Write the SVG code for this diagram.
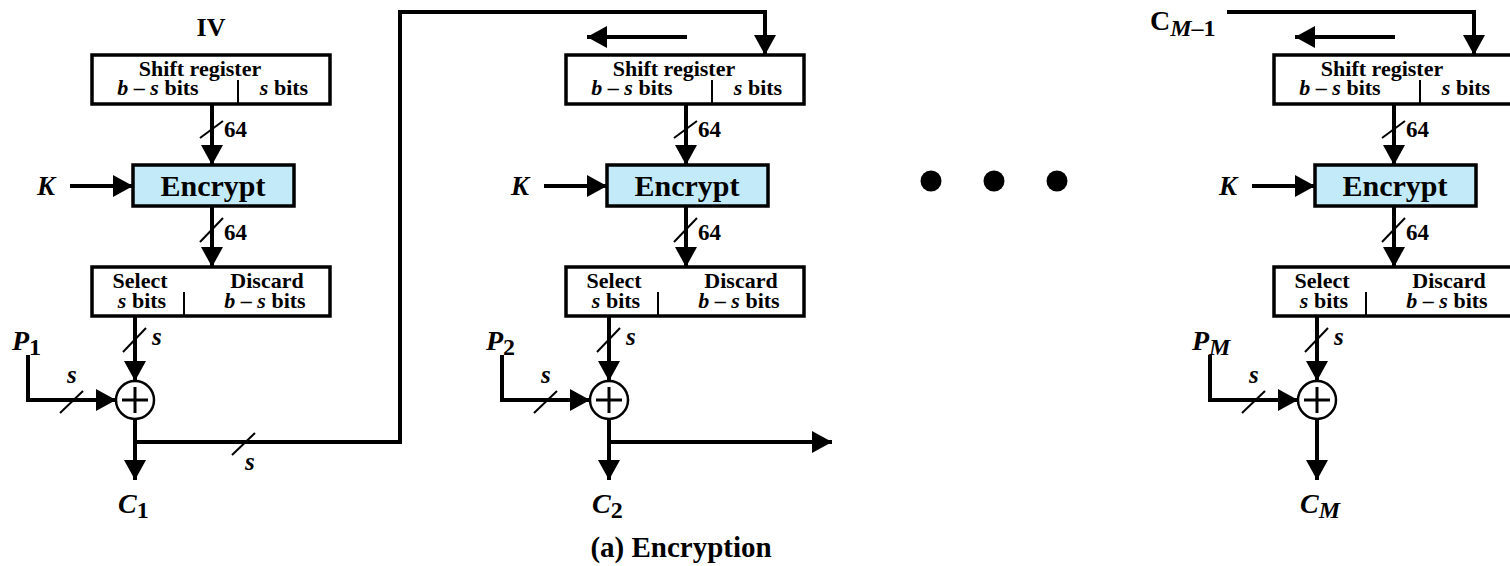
<svg xmlns="http://www.w3.org/2000/svg" width="1510" height="566" viewBox="0 0 1510 566">
<style>
text{font-family:"Liberation Serif","Times New Roman",serif;font-weight:bold;fill:#000}
.t22{font-size:22px}
.mid{text-anchor:middle}
.it{font-style:italic}
.up{font-style:normal}
.box{fill:#fff;stroke:#000;stroke-width:3.5}
.enc{fill:#c3eaf8;stroke:#000;stroke-width:3.5}
.div{stroke:#000;stroke-width:2}
.ln{fill:none;stroke:#000;stroke-width:4}
.sl{stroke:#000;stroke-width:2}
.xor{fill:#fff;stroke:#000;stroke-width:2.5}
.plus{stroke:#000;stroke-width:3}
</style>
<defs>
<marker id="ah" markerUnits="userSpaceOnUse" markerWidth="21" markerHeight="22" refX="20" refY="11" orient="auto" viewBox="0 0 21 22">
<path d="M0,0 L20,11 L0,22 z" fill="#000"/>
</marker>
<g id="stage">
<rect class="box" x="92" y="55" width="238" height="49"/>
<line class="div" x1="238" y1="80" x2="238" y2="104"/>
<text class="t22 mid" x="200" y="76">Shift register</text>
<text class="t22 mid" x="158" y="95"><tspan class="it">b</tspan> – <tspan class="it">s</tspan> bits</text>
<text class="t22 mid" x="284" y="95"><tspan class="it">s</tspan> bits</text>
<rect class="enc" x="133" y="165" width="161" height="41"/>
<text class="mid" x="213" y="196" font-size="30">Encrypt</text>
<text class="it" x="37" y="195" font-size="27">K</text>
<rect class="box" x="92" y="267" width="238" height="49"/>
<line class="div" x1="184" y1="292" x2="184" y2="316"/>
<text class="t22 mid" x="140" y="288">Select</text>
<text class="t22 mid" x="142" y="308"><tspan class="it">s</tspan> bits</text>
<text class="t22 mid" x="267" y="288">Discard</text>
<text class="t22 mid" x="265" y="308"><tspan class="it">b</tspan> – <tspan class="it">s</tspan> bits</text>
<circle class="xor" cx="135" cy="400" r="19"/>
<line class="plus" x1="122" y1="400" x2="148" y2="400"/>
<line class="plus" x1="135" y1="387" x2="135" y2="413"/>
<text x="224" y="137" font-size="23">64</text>
<text x="224" y="240" font-size="23">64</text>
<text class="it" x="152" y="345" font-size="25">s</text>
<text class="it" x="67" y="383" font-size="25">s</text>
<line class="ln" x1="212" y1="104" x2="212" y2="165" marker-end="url(#ah)"/>
<line class="ln" x1="70" y1="186" x2="133" y2="186" marker-end="url(#ah)"/>
<line class="ln" x1="212" y1="206" x2="212" y2="267" marker-end="url(#ah)"/>
<line class="ln" x1="135" y1="316" x2="135" y2="381" marker-end="url(#ah)"/>
<polyline class="ln" points="28,355 28,400 116,400" marker-end="url(#ah)"/>
<line class="ln" x1="135" y1="419" x2="135" y2="480" marker-end="url(#ah)"/>
<line class="sl" x1="200" y1="138" x2="223" y2="121"/>
<line class="sl" x1="200" y1="242" x2="223" y2="218"/>
<line class="sl" x1="123" y1="352" x2="146" y2="328"/>
<line class="sl" x1="60" y1="413" x2="83" y2="391"/>
</g>
</defs>

<g id="stage1">
<use href="#stage"/>
<text class="mid" x="211" y="36" font-size="26">IV</text>
<text class="it" x="12" y="350" font-size="28">P<tspan class="up" font-size="24" dy="5">1</tspan></text>
<text class="it" x="118" y="513" font-size="28">C<tspan class="up" font-size="24" dy="5">1</tspan></text>
</g>

<g id="stage2" transform="translate(474,0)">
<use href="#stage"/>
<text class="it" x="12" y="350" font-size="28">P<tspan class="up" font-size="24" dy="5">2</tspan></text>
<text class="it" x="118" y="513" font-size="28">C<tspan class="up" font-size="24" dy="5">2</tspan></text>
</g>

<g id="stage3" transform="translate(1182,0)">
<use href="#stage"/>
<text class="it" x="10" y="350" font-size="28">P<tspan font-size="24" dy="5">M</tspan></text>
<text class="it" x="118" y="513" font-size="28">C<tspan font-size="24" dy="5">M</tspan></text>
</g>

<g id="cm1">
<text x="1150" y="30" font-size="28">C<tspan class="it" font-size="24" dy="6">M</tspan><tspan font-size="24">–1</tspan></text>
</g>

<g id="dots">
<circle cx="931" cy="181" r="10.5"/>
<circle cx="994" cy="181" r="10.5"/>
<circle cx="1057" cy="181" r="10.5"/>
</g>

<g id="connectors">
<polyline class="ln" points="135,442 400,442 400,12 765,12 765,55" marker-end="url(#ah)"/>
<line class="sl" x1="232" y1="455" x2="255" y2="433"/>
<text class="it" x="245" y="470" font-size="25">s</text>
<line class="ln" x1="687" y1="37" x2="587" y2="37" marker-end="url(#ah)"/>
<line class="ln" x1="608" y1="442" x2="832" y2="442" marker-end="url(#ah)"/>
<polyline class="ln" points="1227,12 1474,12 1474,55" marker-end="url(#ah)"/>
<line class="ln" x1="1395" y1="37" x2="1295" y2="37" marker-end="url(#ah)"/>
</g>

<text class="mid" x="681" y="557" font-size="29">(a) Encryption</text>
</svg>
